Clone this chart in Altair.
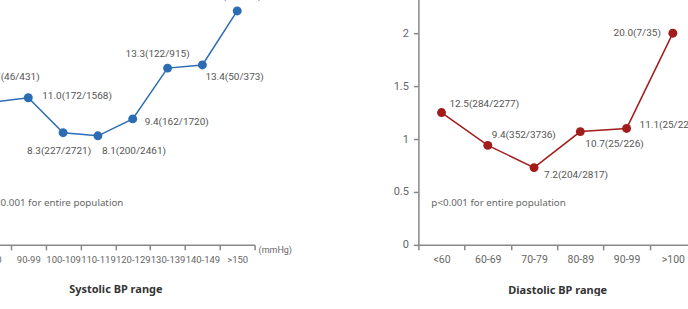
import altair as alt
import pandas as pd

# ---- data ----
sys_cats = ["<90", "90-99", "100-109", "110-119", "120-129", "130-139", "140-149", ">150"]
sys_vals = [1.35, 1.39, 1.06, 1.03, 1.19, 1.67, 1.70, 2.21]
sys_labels = ["10.7(46/431)", "11.0(172/1568)", "8.3(227/2721)", "8.1(200/2461)",
              "9.4(162/1720)", "13.3(122/915)", "13.4(50/373)", "17.9(26/145)"]

dia_cats = ["<60", "60-69", "70-79", "80-89", "90-99", ">100"]
dia_vals = [1.25, 0.94, 0.73, 1.07, 1.10, 2.00]
dia_labels = ["12.5(284/2277)", "9.4(352/3736)", "7.2(204/2817)", "10.7(25/226)",
              "11.1(25/226)", "20.0(7/35)"]

note_text = "p<0.001 for entire population"
unit_text = "(mmHg)"

# label placement (align, dx, dy) -- styling only
sys_place = [("center", 17, -25), ("left", 14, -2), ("center", -4, 18), ("left", 4, 15),
             ("left", 12, 3), ("center", -10, -14), ("left", 3, 12), ("center", -5, -15)]
dia_place = [("left", 8, -9), ("left", 4, -10), ("left", 10, 7), ("left", 5, 12),
             ("left", 13, -3), ("right", -12, 0)]

GREY = "#888888"
LAB = "#555555"
H = 265


def panel(cats, vals, labels, place, color, title, width, show_y, tick_fs,
          clip_labels, unit=None):
    df = pd.DataFrame({"cat": cats, "val": vals, "lab": labels})
    x = alt.X("cat:N", sort=cats,
              scale=alt.Scale(type="band", paddingInner=0, paddingOuter=0),
              axis=alt.Axis(title=title, tickBand="extent", labelAngle=0,
                            domainColor=GREY, domainWidth=1.5, tickColor=GREY,
                            tickWidth=1.5, tickSize=5, labelColor="#666666",
                            labelFont="Roboto", labelFontSize=tick_fs, labelPadding=5,
                            titleFont="Noto Sans", titleFontSize=11,
                            titleFontWeight="bold", titleColor="#333333",
                            titlePadding=19, grid=False))
    if show_y:
        yaxis = alt.Axis(title=None, values=[0, 0.5, 1, 1.5, 2], format="~g", grid=False,
                         domainColor=GREY, domainWidth=1.5, tickColor=GREY,
                         tickWidth=1.5, tickSize=5, labelColor="#666666",
                         labelFont="Roboto", labelFontSize=11, labelPadding=5)
    else:
        yaxis = None
    y = alt.Y("val:Q", scale=alt.Scale(domain=[0, 2.5], nice=False, zero=True), axis=yaxis)
    base = alt.Chart(df).encode(x=x, y=y)
    layers = [
        base.mark_line(color=color, strokeWidth=1.5),
        base.mark_circle(color=color, size=80, opacity=1),
    ]
    for c, (a, dx, dy) in zip(cats, place):
        layers.append(
            base.transform_filter(alt.datum.cat == c)
            .mark_text(align=a, baseline="middle", dx=dx, dy=dy, font="Roboto",
                       fontSize=10, color=LAB, clip=clip_labels)
            .encode(text="lab:N")
        )
    layers.append(
        alt.Chart(pd.DataFrame({"t": [note_text]}))
        .mark_text(align="left", baseline="middle", font="Noto Sans", fontSize=9.8,
                   color="#666666")
        .encode(x=alt.value(13), y=alt.value(223), text="t:N")
    )
    if unit:
        layers.append(
            alt.Chart(pd.DataFrame({"t": [unit]}))
            .mark_text(align="left", baseline="middle", font="Roboto", fontSize=9,
                       color="#666666")
            .encode(x=alt.value(width + 4), y=alt.value(H + 5), text="t:N")
        )
    return alt.layer(*layers).properties(width=width, height=H)


left = panel(sys_cats, sys_vals, sys_labels, sys_place, "#2b6cb3",
             "Systolic BP range", 279, False, 9.5, False, unit=unit_text)
right = panel(dia_cats, dia_vals, dia_labels, dia_place, "#a21c1c",
              "Diastolic BP range", 278, True, 10.5, True)

chart = (
    alt.hconcat(left, right, spacing=164, bounds="flush")
    .properties(padding={"left": -25, "top": -20, "right": -9, "bottom": 0},
                background="white")
    .configure_view(stroke=None)
)

chart.save("out.html", embed_options={"renderer": "svg", "actions": False})
